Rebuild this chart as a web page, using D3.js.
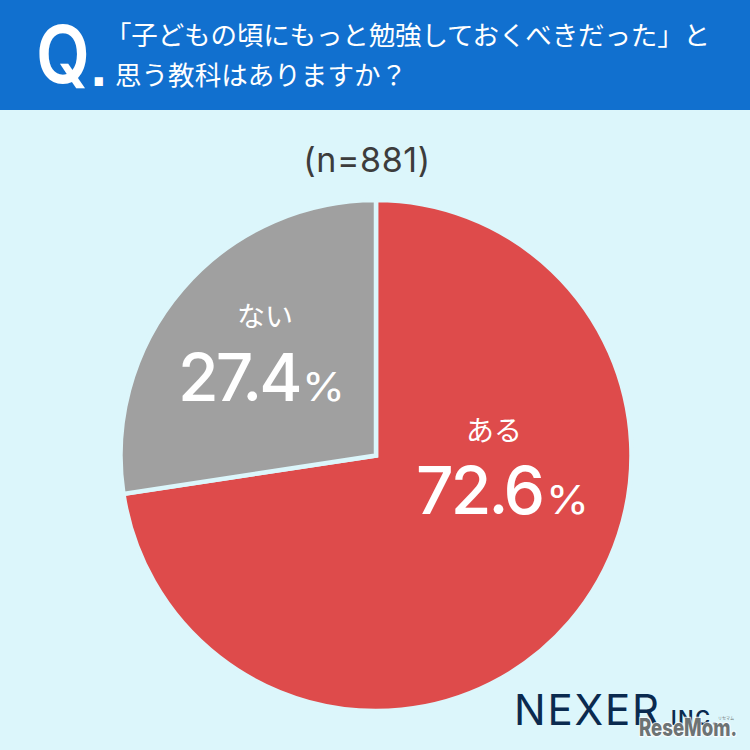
<!DOCTYPE html>
<html>
<head>
<meta charset="utf-8">
<script src="https://cdn.jsdelivr.net/npm/d3@7"></script>
<style>
  html, body { margin: 0; padding: 0; background: #dcf6fb; }
  svg { display: block; }
  text { font-family: "Noto Sans CJK JP", sans-serif; }
  .latin { font-family: "Inter", "Noto Sans", sans-serif; }
</style>
</head>
<body>
<svg id="chart"></svg>
<script>
const categories = ['ある', 'ない'];
const shares = [72.6, 27.4];
const shareLabels = ['72.6', '27.4'];
const titleLines = ['「子どもの頃にもっと勉強しておくべきだった」と', '思う教科はありますか？'];
const sampleLabel = '(n=881)';

const width = 750;
const height = 750;
const centerX = 376;
const centerY = 455.5;
const radius = 255.5;
const bgColor = '#dcf6fb';
const colors = ['#de4b4b', '#a0a0a0'];

const svg = d3.select('#chart').attr('width', width).attr('height', height);

svg.append('rect').attr('width', width).attr('height', height).attr('fill', bgColor);
svg.append('rect').attr('width', width).attr('height', 110).attr('fill', '#1170cf');

// header
svg.append('text')
  .attr('class', 'latin')
  .attr('x', 36).attr('y', 83)
  .attr('font-size', 80).attr('font-weight', 600).attr('fill', '#fff')
  .attr('textLength', 54).attr('lengthAdjust', 'spacingAndGlyphs')
  .text('Q');
svg.append('text')
  .attr('x', 90).attr('y', 86)
  .style('font-family', '"DejaVu Sans"')
  .attr('font-size', 46).attr('font-weight', 700).attr('fill', '#fff')
  .text('.');

svg.selectAll('.title')
  .data(titleLines)
  .enter()
  .append('text')
  .attr('class', 'title')
  .attr('x', (d, i) => i === 0 ? 105 : 115)
  .attr('y', (d, i) => 45 + i * 40)
  .attr('font-size', 26.5)
  .attr('fill', '#fff')
  .attr('textLength', (d, i) => i === 0 ? 605 : 292)
  .text(d => d);

svg.append('text')
  .attr('class', 'latin')
  .attr('x', 367).attr('y', 172)
  .attr('text-anchor', 'middle')
  .attr('font-size', 34).attr('fill', '#3c3c3c')
  .attr('letter-spacing', 0.6)
  .text(sampleLabel);

// pie
const pie = d3.pie().sort(null);
const arc = d3.arc().innerRadius(0).outerRadius(radius);

const pieGroup = svg.append('g').attr('transform', `translate(${centerX}, ${centerY})`);

pieGroup.selectAll('path')
  .data(pie(shares))
  .enter()
  .append('path')
  .attr('d', arc)
  .attr('fill', (d, i) => colors[i])
  .attr('stroke', bgColor)
  .attr('stroke-width', 4.5)
  .attr('stroke-linejoin', 'miter');

// slice labels
const labelPos = [
  { x: 494, y: 441, vx: 416, vy: 514, px: 546 },
  { x: 265, y: 327, vx: 178, vy: 401, px: 302 }
];

categories.forEach((c, i) => {
  const p = labelPos[i];
  svg.append('text')
    .attr('x', p.x).attr('y', p.y)
    .attr('text-anchor', 'middle')
    .attr('font-size', 28).attr('fill', '#fff')
    .text(c);
  svg.append('text')
    .attr('class', 'latin')
    .attr('x', p.vx).attr('y', p.vy)
    .attr('fill', '#fff')
    .attr('font-size', 66).attr('font-weight', 550).attr('letter-spacing', -3)
    .text(shareLabels[i]);
  svg.append('text')
    .attr('class', 'latin')
    .attr('x', p.px).attr('y', p.vy)
    .attr('fill', '#fff')
    .attr('font-size', 40)
    .attr('textLength', 43).attr('lengthAdjust', 'spacingAndGlyphs')
    .text('%');
});

// logo
svg.append('text')
  .attr('class', 'latin')
  .attr('x', 514).attr('y', 725)
  .attr('font-size', 42).attr('font-weight', 400).attr('fill', '#0a2a4f')
  .attr('textLength', 145)
  .text('NEXER');
svg.append('text')
  .attr('class', 'latin')
  .attr('x', 671).attr('y', 725)
  .attr('font-size', 20).attr('font-weight', 600).attr('fill', '#0a2a4f')
  .attr('textLength', 47)
  .text('INC.');

// watermark
svg.append('text')
  .attr('class', 'latin')
  .attr('x', 639).attr('y', 736)
  .attr('font-size', 24).attr('font-weight', 800)
  .attr('fill', '#6d7374')
  .attr('stroke', '#fff').attr('stroke-width', 2.5).attr('stroke-opacity', 0.75)
  .attr('paint-order', 'stroke')
  .attr('textLength', 98).attr('lengthAdjust', 'spacingAndGlyphs')
  .text('ReseMom.');
svg.append('text')
  .attr('x', 718).attr('y', 720)
  .attr('font-size', 4).attr('fill', '#6d7374')
  .text('リセマム');
</script>
</body>
</html>
